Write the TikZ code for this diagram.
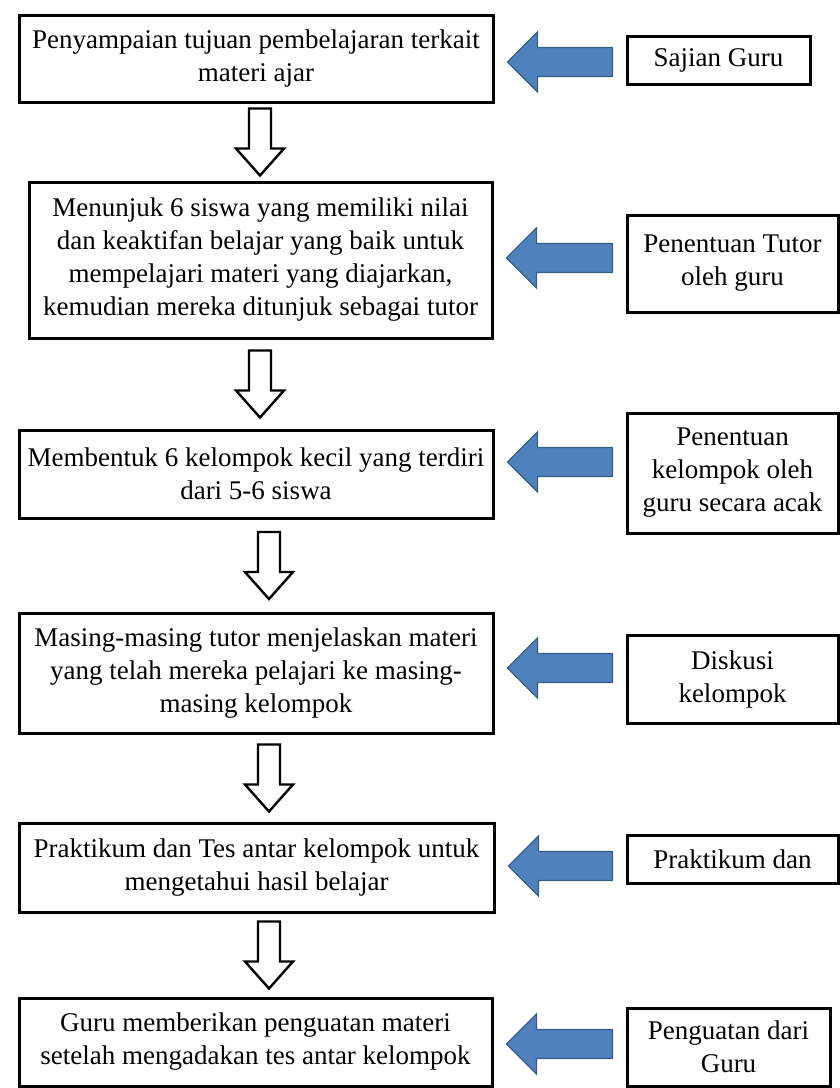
\documentclass[tikz,border=0pt]{standalone}
\usepackage{fontspec}
\setmainfont{Liberation Serif}
\usetikzlibrary{calc}

\definecolor{arrowblue}{HTML}{4F81BD}
\definecolor{arrowedge}{HTML}{385D8A}

\tikzset{
  stepbox/.style={draw, line width=1.5pt, align=center, inner sep=0pt,
    font=\fontsize{13.5}{16.5}\selectfont},
  sidebox/.style={stepbox},
  fat arrow/.style={fill=arrowblue, draw=arrowedge, line width=0.6pt},
  hollow arrow/.style={draw, fill=white, line width=1.2pt, line join=miter}
}

% blue block arrow from note #1 to step #2, centred at height #3
\newcommand{\fatarrow}[3]{%
  \draw[fat arrow] let \p1=($(#2.east |- 0,#3)+(13,0)$), \p2=($(#1.west)+(-13,0)$) in
    (\p1) -- (\x1+15pt, \y1+15pt) -- (\x1+15pt, \y1+7.25pt) -- (\x2, \y1+7.25pt)
    -- (\x2, \y1-7.25pt) -- (\x1+15pt, \y1-7.25pt) -- (\x1+15pt, \y1-15pt) -- cycle;}

% hollow down arrow from step #1 to step #2 at x = #3
\newcommand{\hollowdown}[3]{%
  \draw[hollow arrow] let \p1=($(#3,0 |- #1.south)!.5!(#3,0 |- #2.north)$) in
    (\x1-5.5pt, \y1+16.75pt) -- (\x1+5.5pt, \y1+16.75pt) -- (\x1+5.5pt, \y1-3.25pt)
    -- (\x1+12pt, \y1-3.25pt) -- (\x1, \y1-16.75pt) -- (\x1-12pt, \y1-3.25pt)
    -- (\x1-5.5pt, \y1-3.25pt) -- cycle;}

\begin{document}
\begin{tikzpicture}[x=0.5pt, y=-0.5pt]
  \useasboundingbox (0, 0) rectangle (840, 1088);

  % Steps
  \node[stepbox, minimum width=237pt, minimum height=43.5pt] (s1) at (256, 58.5)
    {Penyampaian tujuan pembelajaran terkait\\materi ajar};
  \node[stepbox, minimum width=231.5pt, minimum height=78pt] (s2) at (260.5, 260)
    {Menunjuk 6 siswa yang memiliki nilai\\dan keaktifan belajar yang baik untuk\\mempelajari materi yang diajarkan,\\kemudian mereka ditunjuk sebagai tutor};
  \node[stepbox, minimum width=237pt, minimum height=44pt] (s3) at (256, 474)
    {Membentuk 6 kelompok kecil yang terdiri\\dari 5-6 siswa};
  \node[stepbox, minimum width=237pt, minimum height=60pt] (s4) at (256, 673)
    {Masing-masing tutor menjelaskan materi\\yang telah mereka pelajari ke masing-\\masing kelompok};
  \node[stepbox, minimum width=237.5pt, minimum height=44.5pt] (s5) at (256.5, 867.5)
    {Praktikum dan Tes antar kelompok untuk\\mengetahui hasil belajar};
  \node[stepbox, minimum width=236.5pt, minimum height=44pt] (s6) at (255.5, 1042)
    {Guru memberikan penguatan materi\\setelah mengadakan tes antar kelompok};

  % Notes on the right
  \node[sidebox, minimum width=91.5pt, minimum height=24pt] (n1) at (718.5, 60) {Sajian Guru};
  \node[sidebox, minimum width=105.5pt, minimum height=48.5pt] (n2) at (732.5, 263.5)
    {Penentuan Tutor\\oleh guru};
  \node[sidebox, minimum width=105.5pt, minimum height=60pt] (n3) at (732.5, 473)
    {Penentuan\\kelompok oleh\\guru secara acak};
  \node[sidebox, minimum width=105.5pt, minimum height=44pt] (n4) at (732.5, 679)
    {Diskusi\\kelompok};
  \node[sidebox, minimum width=105.5pt, minimum height=24pt] (n5) at (732.5, 859) {Praktikum dan};
  \node[sidebox, minimum width=101.5pt, minimum height=39pt] (n6) at (728.5, 1047)
    {Penguatan dari\\Guru};

  % Down arrows
  \hollowdown{s1}{s2}{260}
  \hollowdown{s2}{s3}{260}
  \hollowdown{s3}{s4}{269}
  \hollowdown{s4}{s5}{269}
  \hollowdown{s5}{s6}{269}

  % Blue arrows
  \fatarrow{n1}{s1}{62}
  \fatarrow{n2}{s2}{258}
  \fatarrow{n3}{s3}{462}
  \fatarrow{n4}{s4}{668}
  \fatarrow{n5}{s5}{866}
  \fatarrow{n6}{s6}{1044}
\end{tikzpicture}
\end{document}
